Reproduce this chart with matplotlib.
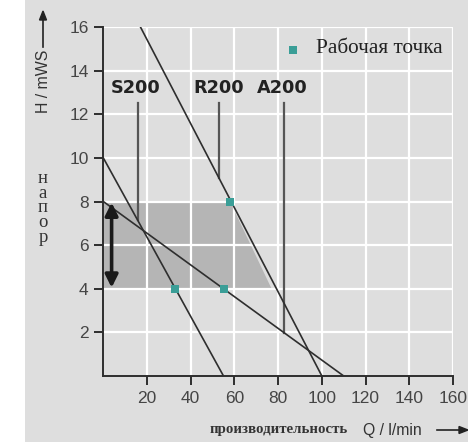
import numpy as np
import matplotlib
matplotlib.use("Agg")
import matplotlib.pyplot as plt
from matplotlib.patches import Rectangle, Polygon

# pump curves (Q in l/min, H in mWS)
q_r200 = [17, 100]
h_r200 = [16, 0]
q_s200 = [0, 55]
h_s200 = [10, 0]
q_a200 = [0, 110]
h_a200 = [8, 0]

# working points
pt_q = [33, 55, 58]
pt_h = [4, 4, 8]

# shaded operating region
zone_q = [0, 0, 58, 77]
zone_h = [4, 8, 8, 4]

# labels and where their leader lines hit the curves
lab_names = ["S200", "R200", "A200"]
lab_q = [14.6, 53, 82]
lead_q = [15.7, 53, 82.7]

xticks = [20, 40, 60, 80, 100, 120, 140, 160]
yticks = [2, 4, 6, 8, 10, 12, 14, 16]

bg = "#dedede"
teal = "#3a9e97"
dark = "#2e2e2e"

fig = plt.figure(figsize=(4.68, 4.42), dpi=100, facecolor=bg)
fig.patches.append(Rectangle((0, 0), 25 / 468, 1, transform=fig.transFigure,
                             facecolor="white", edgecolor="none", zorder=0))

ax = fig.add_axes([103.3 / 468, 66 / 442, 349.7 / 468, 349 / 442])
ax.set_facecolor(bg)
ax.set_xlim(0, 160)
ax.set_ylim(0, 16)
ax.set_xticks(xticks)
ax.set_yticks(yticks)
ax.set_axisbelow(True)
ax.grid(True, color="white", lw=1.6)
for s in ["top", "right"]:
    ax.spines[s].set_visible(False)
for s in ["left", "bottom"]:
    ax.spines[s].set_color(dark)
    ax.spines[s].set_linewidth(1.4)
ax.tick_params(length=6.5, width=1.4, color=dark, labelcolor="#454545",
               labelsize=12.5, pad=4)
for lab in ax.get_xticklabels() + ax.get_yticklabels():
    lab.set_fontfamily("Liberation Sans")

ax.add_patch(Polygon(list(zip(zone_q, zone_h)), closed=True,
                     facecolor="#b5b5b5", edgecolor="none", zorder=0.2))

ax.plot(q_r200, h_r200, color=dark, lw=1.2, zorder=3)
ax.plot(q_s200, h_s200, color=dark, lw=1.2, zorder=3)
ax.plot(q_a200, h_a200, color=dark, lw=1.2, zorder=3)

curves = [(q_s200, h_s200), (q_r200, h_r200), (q_a200, h_a200)]
for name, lq, xq, (cq, ch) in zip(lab_names, lab_q, lead_q, curves):
    ax.text(lq, 13.2, name, ha="center", va="center", fontsize=12.8,
            fontweight="bold", family="DejaVu Sans", color="#222222")
    yend = np.interp(xq, cq[::-1] if cq[0] > cq[-1] else cq,
                     ch[::-1] if cq[0] > cq[-1] else ch)
    ax.plot([xq, xq], [12.5, yend], color="#555555", lw=1.6, zorder=2.5)

ax.scatter(pt_q, pt_h, marker="s", s=36, color=teal, zorder=4, linewidths=0)

ax.annotate("", xy=(3.8, 4.05), xytext=(3.8, 7.95),
            arrowprops=dict(arrowstyle="<|-|>", color="#1a1a1a", lw=2.6,
                            mutation_scale=19, shrinkA=0, shrinkB=0), zorder=5)

# legend
ax.scatter([86.8], [14.95], marker="s", s=30, color=teal, linewidths=0,
           clip_on=False)
ax.text(97.3, 15.0, "Рабочая точка", ha="left", va="center", fontsize=15.3,
        family="Liberation Serif", color="#222222")

# axis titles
fig.text(43 / 468, 1 - 81 / 442, "H / mWS", rotation=90, ha="center",
         va="center", fontsize=11.4, family="Liberation Sans", color="#333333")
fig.add_artist(plt.Line2D([43 / 468, 43 / 468], [1 - 47 / 442, 1 - 16 / 442],
                          color="#222222", lw=1.2))
fig.add_artist(plt.Polygon([[39.5 / 468, 1 - 20 / 442], [46.5 / 468, 1 - 20 / 442],
                            [43 / 468, 1 - 11 / 442]], closed=True,
                           color="#222222"))
fig.text(43 / 468, 1 - 208 / 442, "\n".join("напор"), ha="center",
         va="center", ma="center", fontsize=13.5, linespacing=0.83,
         family="Liberation Serif", color="#333333")

fig.text(278.5 / 468, 1 - 430 / 442, "производительность", ha="center",
         va="center", fontsize=10.7, fontweight="bold",
         family="Liberation Serif", color="#333333")
fig.text(392.5 / 468, 1 - 430 / 442, "Q / l/min", ha="center", va="center",
         fontsize=11.3, family="Liberation Sans", color="#333333")
fig.add_artist(plt.Line2D([437 / 468, 462 / 468], [1 - 430 / 442, 1 - 430 / 442],
                          color="#222222", lw=1.2))
fig.add_artist(plt.Polygon([[459 / 468, 1 - 426.5 / 442], [459 / 468, 1 - 433.5 / 442],
                            [468 / 468, 1 - 430 / 442]], closed=True,
                           color="#222222"))

fig.savefig("out.png", dpi=100, facecolor=bg)
